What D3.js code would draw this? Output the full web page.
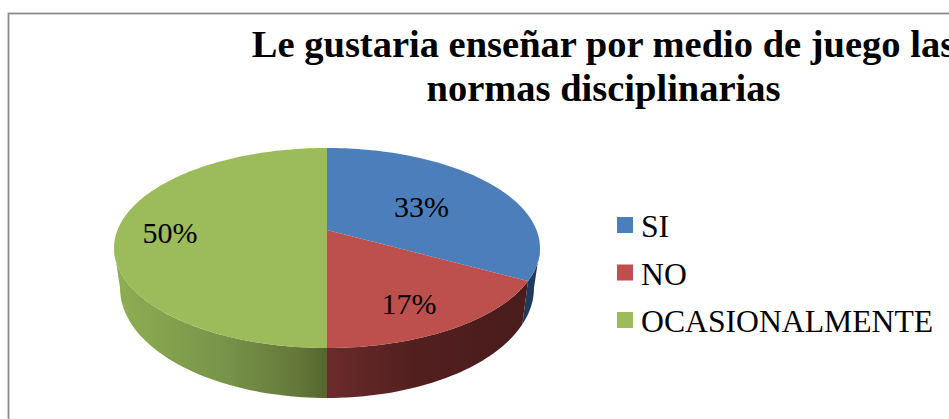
<!DOCTYPE html>
<html>
<head>
<meta charset="utf-8">
<script src="https://cdn.jsdelivr.net/npm/d3@7/dist/d3.min.js"></script>
<style>
html,body{margin:0;padding:0;background:#fff;overflow:hidden}
svg{display:block}
text{font-family:"Liberation Serif","Times New Roman",serif;fill:#000}
</style>
</head>
<body>
<svg id="chart" width="949" height="419"></svg>
<script>
// Data
const categories = ["SI", "NO", "OCASIONALMENTE"];
const values = [33, 17, 50];
const titleLines = ["Le gustaria enseñar por medio de juego las", "normas disciplinarias"];

// Colours
const topColors = ["#4c7ebb", "#bd4f4d", "#9cbb5a"];

// Layout
const W = 949, H = 419;
const cx = 327;
const K = 0.18; // perspective strength of the tilted disc
const topRim = {y0: 230, A: 209.5, B: 96.76};
const botRim = {y0: 268.2, A: 203.6, B: 106.4};
const labelR = 0.75;
const labelNudge = [[-32, 12], [-8.5, 3], [0, 3]];

const svg = d3.select("#chart");
const defs = svg.append("defs");

function gradient(id, x1, x2, stops) {
  const g = defs.append("linearGradient").attr("id", id)
    .attr("gradientUnits", "userSpaceOnUse")
    .attr("x1", x1).attr("x2", x2).attr("y1", 0).attr("y2", 0);
  stops.forEach(s => g.append("stop").attr("offset", s[0]).attr("stop-color", s[1]));
}
gradient("wall0", 523, 540, [[0, "#1f3a5c"], [1, "#1f3a5c"]]);
gradient("wall1", 327, 523, [[0, "#6b2b2b"], [0.45, "#521f1f"], [1, "#4a1c1c"]]);
gradient("wall2", 118, 327, [[0, "#8fad52"], [0.5, "#78944a"], [0.85, "#64793a"], [1, "#55652e"]]);

// Frame (runs past the right and bottom of the picture)
svg.append("rect").attr("x", 8.5).attr("y", 13.5).attr("width", W + 20).attr("height", H + 20)
  .attr("fill", "#fff").attr("stroke", "#8c8c8c").attr("stroke-width", 1.8);

// Title
const title = svg.append("text").attr("text-anchor", "middle")
  .attr("font-weight", "bold").attr("font-size", 38.5);
titleLines.forEach((t, i) => title.append("tspan").attr("x", 603.5).attr("y", 57 + i * 44).text(t));

// Projection of a disc point (angle clockwise from the top, radius fraction r)
function project(rim, a, r = 1) {
  const u = Math.sin(a) * r, v = -Math.cos(a) * r;
  const d = 1 - K * v;
  return [cx + rim.A * u / d, rim.y0 + rim.B * v / d];
}
const line = d3.line();
const pieGen = d3.pie().sort(null).value(d => d);
const arcs = pieGen(values);

function samples(a0, a1) {
  const n = Math.max(2, Math.ceil((a1 - a0) * 40));
  return d3.range(n + 1).map(i => a0 + (a1 - a0) * i / n);
}

// Side walls on the near half
const visFrom = Math.acos(-K), visTo = 2 * Math.PI - visFrom;
arcs.forEach((d, i) => {
  const a0 = Math.max(d.startAngle, visFrom), a1 = Math.min(d.endAngle, visTo);
  if (a1 <= a0) return;
  const s = samples(a0, a1);
  const pts = s.map(a => project(topRim, a)).concat(s.slice().reverse().map(a => project(botRim, a)));
  svg.append("path").attr("d", line(pts) + "Z").attr("fill", `url(#wall${i})`);
});

// Top faces
arcs.forEach((d, i) => {
  const pts = [project(topRim, 0, 0)].concat(samples(d.startAngle, d.endAngle).map(a => project(topRim, a)));
  svg.append("path").attr("d", line(pts) + "Z").attr("fill", topColors[i]);
});

// Percentage labels
arcs.forEach((d, i) => {
  const p = project(topRim, (d.startAngle + d.endAngle) / 2, labelR);
  svg.append("text").attr("text-anchor", "middle").attr("font-size", 30)
    .attr("x", p[0] + labelNudge[i][0]).attr("y", p[1] + labelNudge[i][1] + 10)
    .text(d.value + "%");
});

// Legend
const legendY = d3.scalePoint().domain(categories).range([225, 320]);
categories.forEach((c, i) => {
  svg.append("rect").attr("x", 617).attr("y", legendY(c) - 8).attr("width", 16).attr("height", 16)
    .attr("fill", topColors[i]);
  svg.append("text").attr("x", 641).attr("y", legendY(c) + 12).attr("font-size", 31.7).text(c);
});
</script>
</body>
</html>
